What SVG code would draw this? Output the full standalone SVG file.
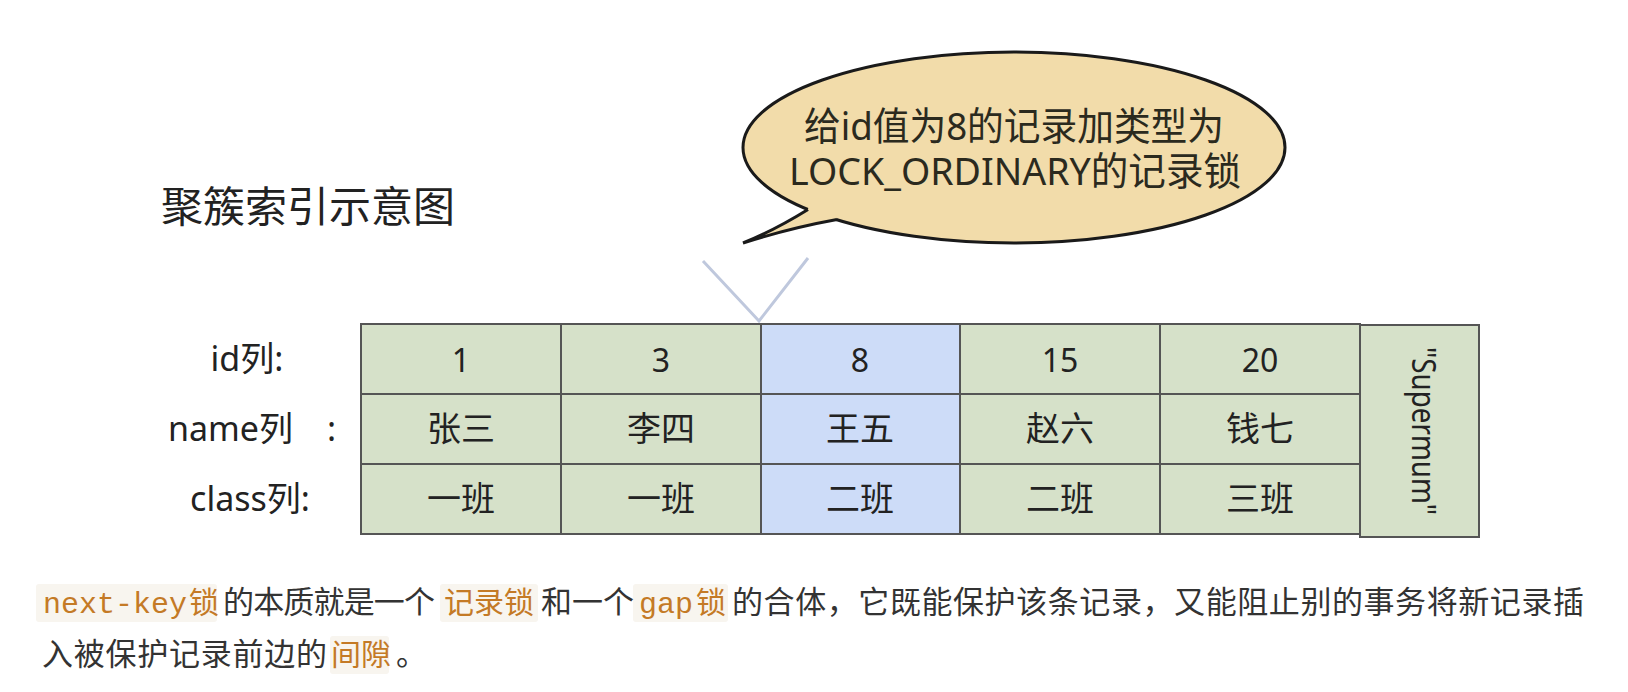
<svg xmlns="http://www.w3.org/2000/svg" width="1628" height="692" viewBox="0 0 1628 692">
<style>
.cell{fill:#d6e1c9;stroke:#555;stroke-width:2}
.sel{fill:#cddcf8;stroke:#555;stroke-width:2}
.n{font-family:"Noto Sans","Noto Sans CJK SC",sans-serif;fill:#222;font-size:32px;text-anchor:middle}
.t{font-family:"Noto Sans CJK SC","Noto Sans",sans-serif;fill:#222;font-size:34px;text-anchor:middle}
.lbl{font-family:"Noto Sans","Noto Sans CJK SC",sans-serif;fill:#222;font-size:34px;text-anchor:middle}
.p{font-family:"Noto Sans CJK SC","Noto Sans",sans-serif;fill:#333;font-size:31px}
.code{font-family:"Liberation Mono","DejaVu Sans Mono","Noto Sans CJK SC",monospace;fill:#c47a26;font-size:30px}
.codec{font-family:"Noto Sans CJK SC",sans-serif;fill:#c47a26;font-size:30px}
.hl{fill:#f8f5ef}
.bt{font-family:"Noto Sans","Noto Sans CJK SC",sans-serif;font-size:39px;fill:#2b2a1e}
</style>
<rect width="1628" height="692" fill="#ffffff"/>

<g id="title">
<text x="161" y="222" font-family="Noto Sans CJK SC, sans-serif" font-size="42" fill="#222">聚簇索引示意图</text>
</g>

<g id="callout">
<ellipse cx="1014" cy="147.5" rx="271" ry="95.5" fill="#f2dcaa" stroke="#1a1a1a" stroke-width="3"/>
<path d="M808,209 Q775,230 743,243 Q790,228 837,219 L832,200 L812,198 Z" fill="#f2dcaa"/>
<path d="M808,209.5 Q775,230 743,243 Q790,228 837,219.5" fill="none" stroke="#1a1a1a" stroke-width="3"/>
<text class="bt" x="804" y="140" textLength="420" lengthAdjust="spacingAndGlyphs">给id值为8的记录加类型为</text>
<text class="bt" x="789" y="185" textLength="452" lengthAdjust="spacingAndGlyphs">LOCK_ORDINARY的记录锁</text>
</g>

<g id="connectors">
<path d="M703,261 L759,321 L808,258" fill="none" stroke="#bfc8dd" stroke-width="3"/>
</g>

<g id="labels">
<text class="lbl" x="247" y="371">id列:</text>
<text class="lbl" x="252" y="441">name列　:</text>
<text class="lbl" x="250" y="511">class列:</text>
</g>

<g id="rec1">
<rect class="cell" x="361" y="324" width="200" height="70"/>
<rect class="cell" x="361" y="394" width="200" height="70"/>
<rect class="cell" x="361" y="464" width="200" height="70"/>
<text class="n" x="461" y="372">1</text>
<text class="t" x="461" y="441">张三</text>
<text class="t" x="461" y="511">一班</text>
</g>
<g id="rec3">
<rect class="cell" x="561" y="324" width="200" height="70"/>
<rect class="cell" x="561" y="394" width="200" height="70"/>
<rect class="cell" x="561" y="464" width="200" height="70"/>
<text class="n" x="661" y="372">3</text>
<text class="t" x="661" y="441">李四</text>
<text class="t" x="661" y="511">一班</text>
</g>
<g id="rec8">
<rect class="sel" x="761" y="324" width="199" height="70"/>
<rect class="sel" x="761" y="394" width="199" height="70"/>
<rect class="sel" x="761" y="464" width="199" height="70"/>
<text class="n" x="860" y="372">8</text>
<text class="t" x="860" y="441">王五</text>
<text class="t" x="860" y="511">二班</text>
</g>
<g id="rec15">
<rect class="cell" x="960" y="324" width="200" height="70"/>
<rect class="cell" x="960" y="394" width="200" height="70"/>
<rect class="cell" x="960" y="464" width="200" height="70"/>
<text class="n" x="1060" y="372">15</text>
<text class="t" x="1060" y="441">赵六</text>
<text class="t" x="1060" y="511">二班</text>
</g>
<g id="rec20">
<rect class="cell" x="1160" y="324" width="200" height="70"/>
<rect class="cell" x="1160" y="394" width="200" height="70"/>
<rect class="cell" x="1160" y="464" width="200" height="70"/>
<text class="n" x="1260" y="372">20</text>
<text class="t" x="1260" y="441">钱七</text>
<text class="t" x="1260" y="511">三班</text>
</g>
<g id="supremum">
<rect class="cell" x="1360" y="325" width="119" height="212" stroke-width="2.5"/>
<text class="n" x="0" y="0" font-size="29" textLength="168" lengthAdjust="spacingAndGlyphs" transform="translate(1412,431) rotate(90)">"Supermum"</text>
</g>

<g id="note">
<rect class="hl" x="36" y="584" width="181" height="38" rx="3"/>
<rect class="hl" x="440" y="584" width="98" height="38" rx="3"/>
<rect class="hl" x="633" y="584" width="95" height="38" rx="3"/>
<rect class="hl" x="330" y="636" width="59" height="38" rx="3"/>
<text class="code" x="43" y="613">next-key</text>
<text class="codec" x="189" y="613">锁</text>
<text class="p" x="223" y="613" textLength="212">的本质就是一个</text>
<text class="codec" x="444" y="613">记录锁</text>
<text class="p" x="541" y="613">和一个</text>
<text class="code" x="639" y="613">gap</text>
<text class="codec" x="696" y="613">锁</text>
<text class="p" x="732" y="613" textLength="852">的合体，它既能保护该条记录，又能阻止别的事务将新记录插</text>
<text class="p" x="42" y="665" textLength="285">入被保护记录前边的</text>
<text class="codec" x="331" y="665">间隙</text>
<text class="p" x="396" y="665">。</text>
</g>
</svg>
